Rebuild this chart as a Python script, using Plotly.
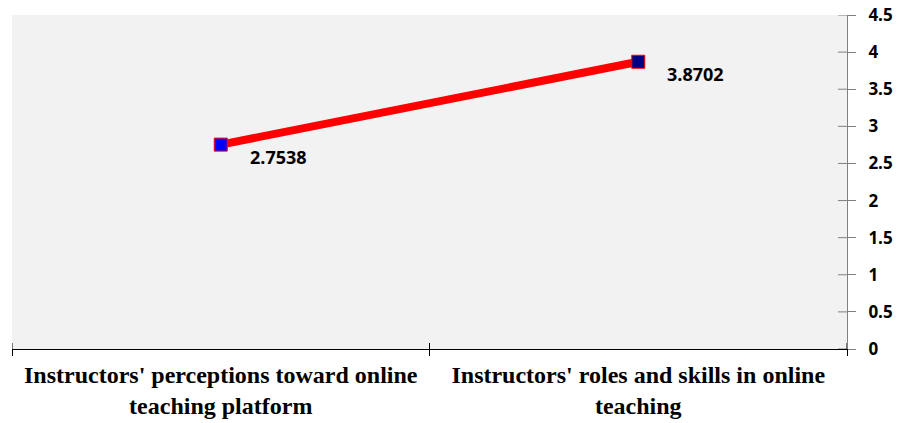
import plotly.graph_objects as go

categories = [
    "Instructors' perceptions toward online<br>teaching platform",
    "Instructors' roles and skills in online<br>teaching",
]
values = [2.7538, 3.8702]
marker_colors = ["#0000FF", "#000080"]
y_ticks = [0, 0.5, 1, 1.5, 2, 2.5, 3, 3.5, 4, 4.5]

W, H = 900, 423
L, R, T, B = 12, 53, 15, 74
plot_w = W - L - R

fig = go.Figure()
fig.add_trace(go.Scatter(
    x=categories,
    y=values,
    mode="lines+markers",
    line=dict(color="#FF0000", width=8),
    marker=dict(symbol="square", size=13, color=marker_colors,
                line=dict(color="#FF0000", width=1)),
    hoverinfo="skip",
    showlegend=False,
))

for cat, v in zip(categories, values):
    fig.add_annotation(
        x=cat, y=v, text=f"{v:.4f}", showarrow=False,
        xanchor="left", yanchor="middle", xshift=27, yshift=-12,
        font=dict(family="Open Sans", size=18, color="#000000", weight="bold"),
    )

shapes = []
# inside halves of the crossing y-axis ticks
for t in y_ticks:
    shapes.append(dict(type="line", xref="paper", yref="y",
                       x0=1 - 9 / plot_w, x1=1, y0=t, y1=t,
                       line=dict(color="#808080", width=1)))
# upper halves of the crossing x-axis boundary ticks
for xb in [-0.5, 0.5, 1.5]:
    shapes.append(dict(type="line", xref="x", yref="paper",
                       x0=xb, x1=xb, y0=0, y1=6 / (H - T - B),
                       line=dict(color="#000000", width=1)))
fig.update_layout(shapes=shapes)

fig.update_layout(
    width=W, height=H,
    margin=dict(l=L, r=R, t=T, b=B, autoexpand=False),
    paper_bgcolor="#FFFFFF",
    plot_bgcolor="#F2F2F2",
    xaxis=dict(
        type="category",
        tickson="boundaries",
        ticks="outside", ticklen=6, tickcolor="#000000", tickwidth=1,
        showline=True, linecolor="#000000", linewidth=1,
        showgrid=False, zeroline=False,
        range=[-0.5, 1.5],
        automargin=False,
        tickfont=dict(family="Liberation Serif", size=24, color="#000000",
                      weight="bold"),
        ticklabelstandoff=4,
    ),
    yaxis=dict(
        side="right",
        range=[0, 4.5],
        tickvals=y_ticks,
        ticktext=[f"{t:g}" for t in y_ticks],
        ticks="outside", ticklen=8, tickcolor="#808080", tickwidth=1,
        showline=True, linecolor="#808080", linewidth=1,
        showgrid=False, zeroline=False,
        automargin=False,
        ticklabelstandoff=9,
        tickfont=dict(family="Open Sans", size=17, color="#000000",
                      weight="bold"),
    ),
)

fig.write_html("out.html")
